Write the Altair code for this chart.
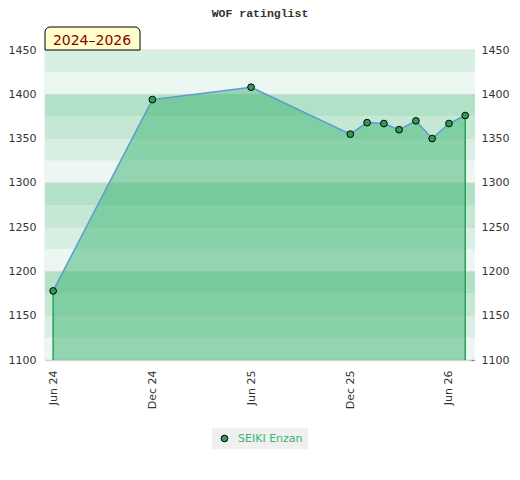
import altair as alt
import pandas as pd

# ---- data ----
dates = ["2024-06-01", "2024-12-01", "2025-06-01", "2025-12-01", "2026-01-01",
         "2026-02-01", "2026-03-01", "2026-04-01", "2026-05-01", "2026-06-01",
         "2026-07-01"]
ratings = [1178, 1394, 1408, 1355, 1368, 1367, 1360, 1370, 1350, 1367, 1376]
player = "SEIKI Enzan"
chart_title = "WOF ratinglist"
period_label = "2024–2026"

y_min, y_max = 1100, 1450
band_lo = list(range(1100, 1450, 25))
band_palette = ["#ecf7f1", "#d8f0e3", "#c5e8d4", "#b1e1c6"]
major_ticks = list(range(1100, 1451, 50))
minor_ticks = list(range(1100, 1451, 10))
x_tick_dates = [(2024, 6), (2024, 12), (2025, 6), (2025, 12), (2026, 6)]

W, H = 430, 310

df = pd.DataFrame({"date": pd.to_datetime(dates), "rating": ratings, "player": player})
ends = df.iloc[[0, len(df) - 1]]
bands = pd.DataFrame({
    "lo": band_lo,
    "hi": [b + 25 for b in band_lo],
    "color": [band_palette[i % 4] for i in range(len(band_lo))],
})
grid = pd.DataFrame({"v": major_ticks})
label_df = pd.DataFrame({"t": [period_label]})
title_df = pd.DataFrame({"t": [chart_title]})

y_scale = alt.Scale(domain=[y_min, y_max], nice=False, zero=False)
x_scale = alt.Scale(domain=[alt.DateTime(year=2024, month=5, date=17),
                            alt.DateTime(year=2026, month=7, date=19)])

left_axis = alt.Axis(values=major_ticks, format="d", ticks=False, domain=True,
                     domainColor="#d0d0d0", domainWidth=1.5, grid=False, labelPadding=9,
                     labelFontSize=11, labelColor="#333333", title=None)
right_axis = alt.Axis(orient="right", values=minor_ticks, format="d", ticks=True, tickSize=3,
                      tickColor="#222222", domain=False, grid=False, offset=-4,
                      labelPadding=7, labelFontSize=11, labelColor="#333333",
                      labelExpr="datum.value % 50 === 0 ? datum.label : ''", title=None)
x_axis = alt.Axis(values=[alt.DateTime(year=y, month=m, date=1) for y, m in x_tick_dates],
                  format="%b %y", labelAngle=270, ticks=False, domain=True,
                  domainColor="#d0d0d0", domainWidth=1.5, grid=False, labelPadding=10,
                  labelFontSize=11, labelColor="#333333", title=None)

band_layer = alt.Chart(bands).mark_rect().encode(
    y=alt.Y("lo:Q", scale=y_scale, axis=left_axis),
    y2="hi:Q",
    x=alt.value(0), x2=alt.value(W),
    color=alt.Color("color:N", scale=None),
)

grid_layer = alt.Chart(grid).mark_rule(color="#d9d9d9", strokeWidth=1).encode(
    y=alt.Y("v:Q", scale=y_scale, axis=None),
    x=alt.value(0), x2=alt.value(W),
)

area_layer = alt.Chart(df).mark_area(color="#3cb371", opacity=0.5).encode(
    x=alt.X("date:T", scale=x_scale, axis=x_axis),
    y=alt.Y("rating:Q", scale=y_scale, axis=None),
    y2=alt.datum(y_min),
)

end_rules = alt.Chart(ends).mark_rule(color="#2e9e57", strokeWidth=1.5).encode(
    x=alt.X("date:T", scale=x_scale),
    y=alt.Y("rating:Q", scale=y_scale, axis=None),
    y2=alt.datum(y_min),
)

line_layer = alt.Chart(df).mark_line(color="#5b9bd5", strokeWidth=1.5).encode(
    x=alt.X("date:T", scale=x_scale),
    y=alt.Y("rating:Q", scale=y_scale, axis=None),
)

point_layer = alt.Chart(df).mark_circle(size=45, opacity=1, stroke="black", strokeWidth=1).encode(
    x=alt.X("date:T", scale=x_scale),
    y=alt.Y("rating:Q", scale=y_scale, axis=right_axis),
    fill=alt.Fill("player:N", scale=alt.Scale(domain=[player], range=["#2e9e57"]),
                  legend=alt.Legend(orient="none", legendX=167, legendY=378, title=None,
                                    fillColor="#f0f0f0", padding=5, symbolType="circle",
                                    symbolSize=45, symbolStrokeColor="black",
                                    symbolStrokeWidth=1, symbolOffset=2, labelOffset=8,
                                    labelColor="#3cb371", labelFontSize=11)),
)

label_box = alt.Chart(label_df).mark_rect(
    fill="#ffffcc", stroke="black", strokeWidth=1,
    cornerRadiusTopLeft=5, cornerRadiusTopRight=5,
).encode(x=alt.value(0), x2=alt.value(95), y=alt.value(-23), y2=alt.value(0))

label_text = alt.Chart(label_df).mark_text(
    color="#8b0000", fontSize=14, align="center", baseline="alphabetic",
).encode(x=alt.value(47), y=alt.value(-5), text="t:N")

title_text = alt.Chart(title_df).mark_text(
    color="#333333", font="Liberation Mono", fontSize=11.5, fontWeight="bold",
    align="center", baseline="alphabetic",
).encode(x=alt.value(W / 2), y=alt.value(-33), text="t:N")

chart = alt.layer(
    band_layer, grid_layer, area_layer, end_rules, line_layer, point_layer,
    label_box, label_text, title_text,
).resolve_scale(y="independent").properties(
    width=W, height=H,
    autosize=alt.AutoSizeParams(type="none"),
    padding={"left": 37, "top": 42, "right": 37, "bottom": 100},
).configure(font="DejaVu Sans").configure_view(stroke=None)

chart.save("out.html", embed_options={"renderer": "svg", "actions": False})
